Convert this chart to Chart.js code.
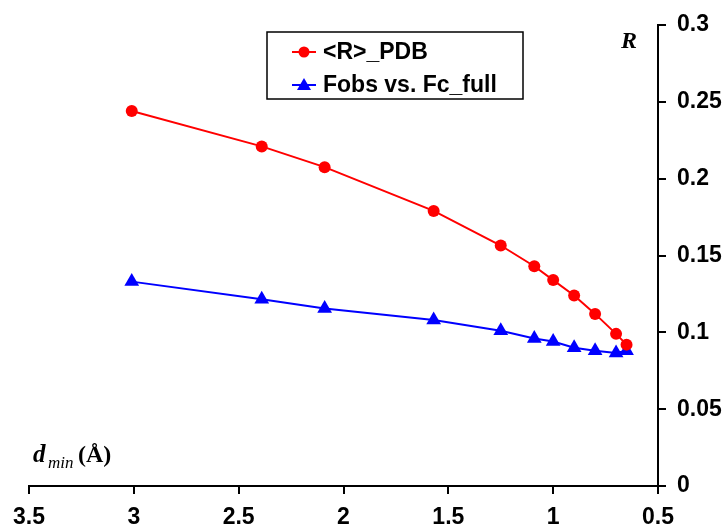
<!DOCTYPE html>
<html>
<head>
<meta charset="utf-8">
<script src="https://cdn.jsdelivr.net/npm/chart.js@4.4.1/dist/chart.umd.min.js"></script>
<style>
  html, body { margin: 0; padding: 0; background: #fff; }
</style>
</head>
<body>
<canvas id="r-chart" width="727" height="532"></canvas>
<script>
// resolution limit (x) and the two R curves
const dmin = [3.01, 2.39, 2.09, 1.57, 1.25, 1.09, 1.0, 0.9, 0.8, 0.7, 0.65];
const rPdb = [0.244, 0.221, 0.2075, 0.179, 0.1565, 0.143, 0.134, 0.124, 0.112, 0.099, 0.092];
const rFobs = [0.133, 0.1215, 0.1155, 0.108, 0.101, 0.096, 0.094, 0.090, 0.088, 0.0865, 0.088];
const seriesNames = ["<R>_PDB", "Fobs vs. Fc_full"];

const toPoints = ys => dmin.map((d, i) => ({ x: d, y: ys[i] }));
const fmt = v => String(+v.toFixed(2));
const tickFont = { family: "'Liberation Sans', Arial, sans-serif", size: 23, weight: 'bold' };

// legend box and axis titles drawn by hand, excel style
const extras = {
    id: 'extras',
    afterDraw(chart) {
        const ctx = chart.ctx;
        ctx.save();
        // legend frame
        ctx.strokeStyle = '#000';
        ctx.lineWidth = 1.5;
        ctx.strokeRect(267, 32, 256, 67);
        const rows = [52, 85];
        chart.data.datasets.forEach((ds, i) => {
            const y = rows[i];
            ctx.strokeStyle = ds.borderColor;
            ctx.lineWidth = 2;
            ctx.beginPath();
            ctx.moveTo(292, y);
            ctx.lineTo(316, y);
            ctx.stroke();
            ctx.fillStyle = ds.backgroundColor;
            ctx.beginPath();
            if (ds.pointStyle === 'triangle') {
                ctx.moveTo(304, y - 7);
                ctx.lineTo(311, y + 5);
                ctx.lineTo(297, y + 5);
                ctx.closePath();
            } else {
                ctx.arc(304, y, 5.5, 0, Math.PI * 2);
            }
            ctx.fill();
            ctx.fillStyle = '#000';
            ctx.font = "bold 23px 'Liberation Sans', Arial, sans-serif";
            ctx.textBaseline = 'middle';
            ctx.textAlign = 'left';
            ctx.fillText(ds.label, 323, y + 1);
        });

        // y title
        ctx.fillStyle = '#000';
        ctx.textBaseline = 'alphabetic';
        ctx.font = "italic bold 24px 'Liberation Serif', 'Times New Roman', serif";
        ctx.fillText('R', 621, 48);

        // x title: d_min (Å)
        ctx.font = "italic bold 25px 'Liberation Serif', 'Times New Roman', serif";
        ctx.fillText('d', 33, 462);
        ctx.font = "italic 17px 'Liberation Serif', 'Times New Roman', serif";
        ctx.fillText('min', 48, 468);
        ctx.font = "bold 24px 'Liberation Serif', 'Times New Roman', serif";
        ctx.fillText('(Å)', 78, 462);
        ctx.restore();
    }
};

const rChart = new Chart(document.getElementById('r-chart').getContext('2d'), {
    type: 'line',
    data: {
        datasets: [{
            label: seriesNames[0],
            data: toPoints(rPdb),
            borderColor: '#ff0000',
            backgroundColor: '#ff0000',
            borderWidth: 2,
            pointStyle: 'circle',
            pointRadius: 6,
            pointBorderWidth: 0,
            tension: 0
        }, {
            label: seriesNames[1],
            data: toPoints(rFobs),
            borderColor: '#0000ff',
            backgroundColor: '#0000ff',
            borderWidth: 2,
            pointStyle: 'triangle',
            pointRadius: 8.5,
            pointBorderWidth: 0,
            tension: 0
        }]
    },
    options: {
        responsive: false,
        animation: false,
        layout: { padding: { left: 29, top: 25, right: 0, bottom: 0 } },
        scales: {
            x: {
                type: 'linear',
                position: 'bottom',
                reverse: true,
                min: 0.5,
                max: 3.5,
                afterFit: s => { s.height = 46; },
                ticks: { stepSize: 0.5, color: '#000', font: tickFont, padding: 10, callback: fmt, maxRotation: 0 },
                grid: { drawOnChartArea: false, drawTicks: true, tickLength: 8, color: '#000', lineWidth: 2 },
                border: { color: '#000', width: 2 }
            },
            y: {
                type: 'linear',
                position: 'right',
                min: 0,
                max: 0.3,
                afterFit: s => { s.width = 69; },
                ticks: { stepSize: 0.05, color: '#000', font: tickFont, padding: 11, callback: fmt },
                grid: { drawOnChartArea: false, drawTicks: true, tickLength: 8, color: '#000', lineWidth: 2 },
                border: { color: '#000', width: 2 }
            }
        },
        plugins: {
            legend: { display: false },
            tooltip: { enabled: false }
        }
    },
    plugins: [extras]
});
</script>
</body>
</html>
